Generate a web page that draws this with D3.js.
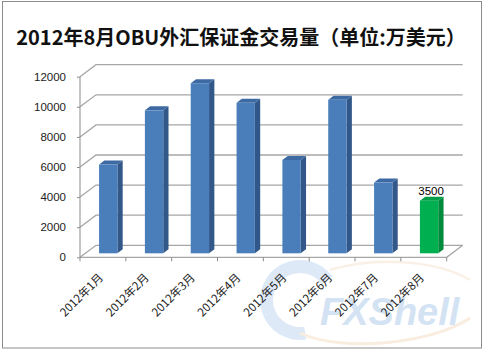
<!DOCTYPE html>
<html><head><meta charset="utf-8">
<script src="https://cdn.jsdelivr.net/npm/d3@7"></script>
<style>body{margin:0;background:#fff}svg{display:block}</style>
</head><body>
<svg id="c" width="494" height="350"></svg>
<script>
const title = "2012年8月OBU外汇保证金交易量（单位:万美元）";
const categories = ["2012年1月","2012年2月","2012年3月","2012年4月","2012年5月","2012年6月","2012年7月","2012年8月"];
const values = [5900, 9500, 11300, 10000, 6200, 10200, 4700, 3500];
const yTicks = [0, 2000, 4000, 6000, 8000, 10000, 12000];
const labeledCategories = ["2012年8月"];
const highlightCategories = ["2012年8月"];

const svg = d3.select("#c");
const W = 494, H = 350;
svg.append("rect").attr("x",0).attr("y",0).attr("width",W).attr("height",H).attr("fill","#fff");
// chart border
svg.append("rect").attr("x",2.5).attr("y",1.5).attr("width",479).attr("height",346.5)
  .attr("fill","none").attr("stroke","#8c8c8c").attr("stroke-width",1);

// watermark
const wm = svg.append("g").attr("opacity",0.5);
wm.append("path").attr("d", d3.arc()({innerRadius:27, outerRadius:40, startAngle:Math.PI*0.95, endAngle:Math.PI*2.3}))
  .attr("transform","translate(300,300)").attr("fill","#bcd5ee");
wm.append("path").attr("d","M300,333 C340,352 430,345 470,318")
  .attr("fill","none").attr("stroke","#f5dcc2").attr("stroke-width",3);
wm.append("path").attr("d","M330,270 C380,255 440,262 470,280")
  .attr("fill","none").attr("stroke","#f7e3cf").attr("stroke-width",2.5);
wm.append("text").attr("x",320).attr("y",325).attr("font-family","Liberation Sans, Arial")
  .attr("font-weight","bold").attr("font-style","italic").attr("font-size",38)
  .attr("fill","#a9c8ea").text("FXShell");

// title
svg.append("text").attr("x",241).attr("y",45).attr("text-anchor","middle")
  .attr("font-family","'Noto Sans CJK SC'").attr("font-weight","bold").attr("font-size",20)
  .attr("fill","#111").text(title);

const x0 = 80, x1 = 446.7;
const x = d3.scaleBand().domain(categories).range([x0, x1]).paddingInner(0).paddingOuter(0);
const y = d3.scaleLinear().domain([0, 12000]).range([257.3, 76.7]);
const back = {dx:16, dy:-12};
const barFront = {dx:5.3, dy:-4};
const barBack = {dx:10.6, dy:-8};
const gridColor = "#a6a6a6";

// gridlines: left wall diagonal + back wall horizontal
const grid = svg.append("g");
yTicks.forEach(v => {
  const yy = y(v);
  grid.append("path")
    .attr("d", `M${x0},${yy}L${x0+back.dx},${yy+back.dy}L${x1+back.dx},${yy+back.dy}`)
    .attr("fill","none").attr("stroke",gridColor).attr("stroke-width",1.3);
});
// floor right edge + front edge
grid.append("path").attr("d",`M${x0},${y(0)}L${x1},${y(0)}L${x1+back.dx},${y(0)+back.dy}`)
  .attr("fill","none").attr("stroke",gridColor).attr("stroke-width",1.3);

// y axis
const yAxis = svg.append("g").attr("transform",`translate(${x0},0)`)
  .call(d3.axisLeft(y).tickValues(yTicks).tickSize(3).tickPadding(11).tickFormat(d3.format("d")));
yAxis.selectAll("path,line").attr("stroke","#8c8c8c");
yAxis.select(".domain").attr("d",`M0,${y(12000)}V${y(0)}`);
yAxis.selectAll("text").attr("font-family","Liberation Sans, Arial").attr("font-size",11.5).attr("fill","#222");

// x axis ticks at boundaries
const bounds = categories.map(c => x(c)).concat([x1]);
svg.append("g").selectAll("line").data(bounds).join("line")
  .attr("x1",d=>d).attr("x2",d=>d).attr("y1",y(0)).attr("y2",y(0)+4)
  .attr("stroke","#8c8c8c");

// bars
const bw = x.bandwidth()*0.4;
const blue = {front:"#4a7ebb", side:"#32588a", top:"#3d6aa3"};
const green = {front:"#00b050", side:"#008a3c", top:"#009e46"};
const bars = svg.append("g");
categories.forEach((c,i) => {
  const col = highlightCategories.includes(c) ? green : blue;
  const xl = x(c) + (x.bandwidth()-bw)/2 + barFront.dx;
  const xr = xl + bw;
  const yt = y(values[i]) + barFront.dy;
  const yb = y(0) + barFront.dy;
  const ddx = barBack.dx - barFront.dx, ddy = barBack.dy - barFront.dy;
  bars.append("path").attr("d",`M${xr},${yb}L${xr+ddx},${yb+ddy}L${xr+ddx},${yt+ddy}L${xr},${yt}Z`).attr("fill",col.side);
  bars.append("path").attr("d",`M${xl},${yt}L${xl+ddx},${yt+ddy}L${xr+ddx},${yt+ddy}L${xr},${yt}Z`).attr("fill",col.top);
  bars.append("rect").attr("x",xl).attr("y",yt).attr("width",bw).attr("height",yb-yt).attr("fill",col.front);
  if (labeledCategories.includes(c)) {
    bars.append("text").attr("x",xl+bw/2+2).attr("y",yt-6).attr("text-anchor","middle")
      .attr("font-family","Liberation Sans, Arial").attr("font-size",11.5).attr("fill","#000")
      .text(values[i]);
  }
});

// x labels
svg.append("g").selectAll("text").data(categories).join("text")
  .attr("text-anchor","end")
  .attr("transform", d => `translate(${x(d)+x.bandwidth()/2+1},${y(0)+21}) rotate(-45)`)
  .attr("font-family","'Noto Sans CJK SC'").attr("font-size",11.5).attr("fill","#222")
  .text(d=>d);
</script>
</body></html>
